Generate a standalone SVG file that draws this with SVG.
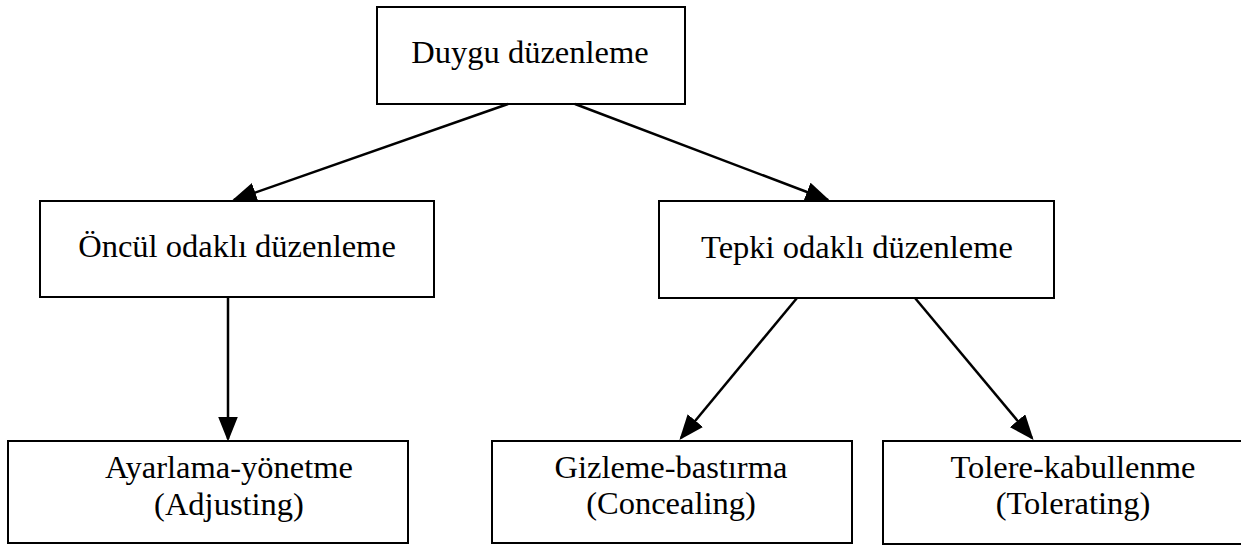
<svg xmlns="http://www.w3.org/2000/svg" width="1241" height="545" viewBox="0 0 1241 545">
<style>
.box{fill:#fff;stroke:#000;stroke-width:2}
.t{font-family:"Liberation Serif","Times New Roman",serif;font-size:32.5px;fill:#000;text-anchor:middle}
.c{stroke:#000;stroke-width:2.5;fill:none;marker-end:url(#ah)}
</style>
<defs>
<marker id="ah" markerWidth="10" markerHeight="8" refX="9" refY="4" orient="auto" markerUnits="strokeWidth">
<path d="M0,0 L10,4 L0,8 Z" fill="#000"/>
</marker>
</defs>
<rect width="1241" height="545" fill="#fff"/>
<g id="n-duygu"><rect class="box" x="377" y="7" width="308" height="97"/><text class="t" x="530" y="63">Duygu düzenleme</text></g>
<g id="n-oncul"><rect class="box" x="40" y="201" width="394" height="96"/><text class="t" x="237" y="257">Öncül odaklı düzenleme</text></g>
<g id="n-tepki"><rect class="box" x="659" y="201" width="395" height="97"/><text class="t" x="857" y="258">Tepki odaklı düzenleme</text></g>
<g id="n-ayarlama"><rect class="box" x="8" y="441" width="400" height="102"/><text class="t" x="229" y="478">Ayarlama-yönetme</text><text class="t" x="229" y="515">(Adjusting)</text></g>
<g id="n-gizleme"><rect class="box" x="492" y="441" width="360" height="102"/><text class="t" x="671" y="478">Gizleme-bastırma</text><text class="t" x="671" y="514">(Concealing)</text></g>
<g id="n-tolere"><rect class="box" x="883" y="441" width="370" height="103"/><text class="t" x="1073" y="478">Tolere-kabullenme</text><text class="t" x="1073" y="514">(Tolerating)</text></g>
<g id="connectors">
<line class="c" x1="508" y1="104" x2="234" y2="200"/>
<line class="c" x1="575" y1="104" x2="828" y2="200"/>
<line class="c" x1="228" y1="298" x2="228" y2="439"/>
<line class="c" x1="797" y1="298" x2="681" y2="438"/>
<line class="c" x1="915" y1="298" x2="1032" y2="438"/>
</g>
</svg>
